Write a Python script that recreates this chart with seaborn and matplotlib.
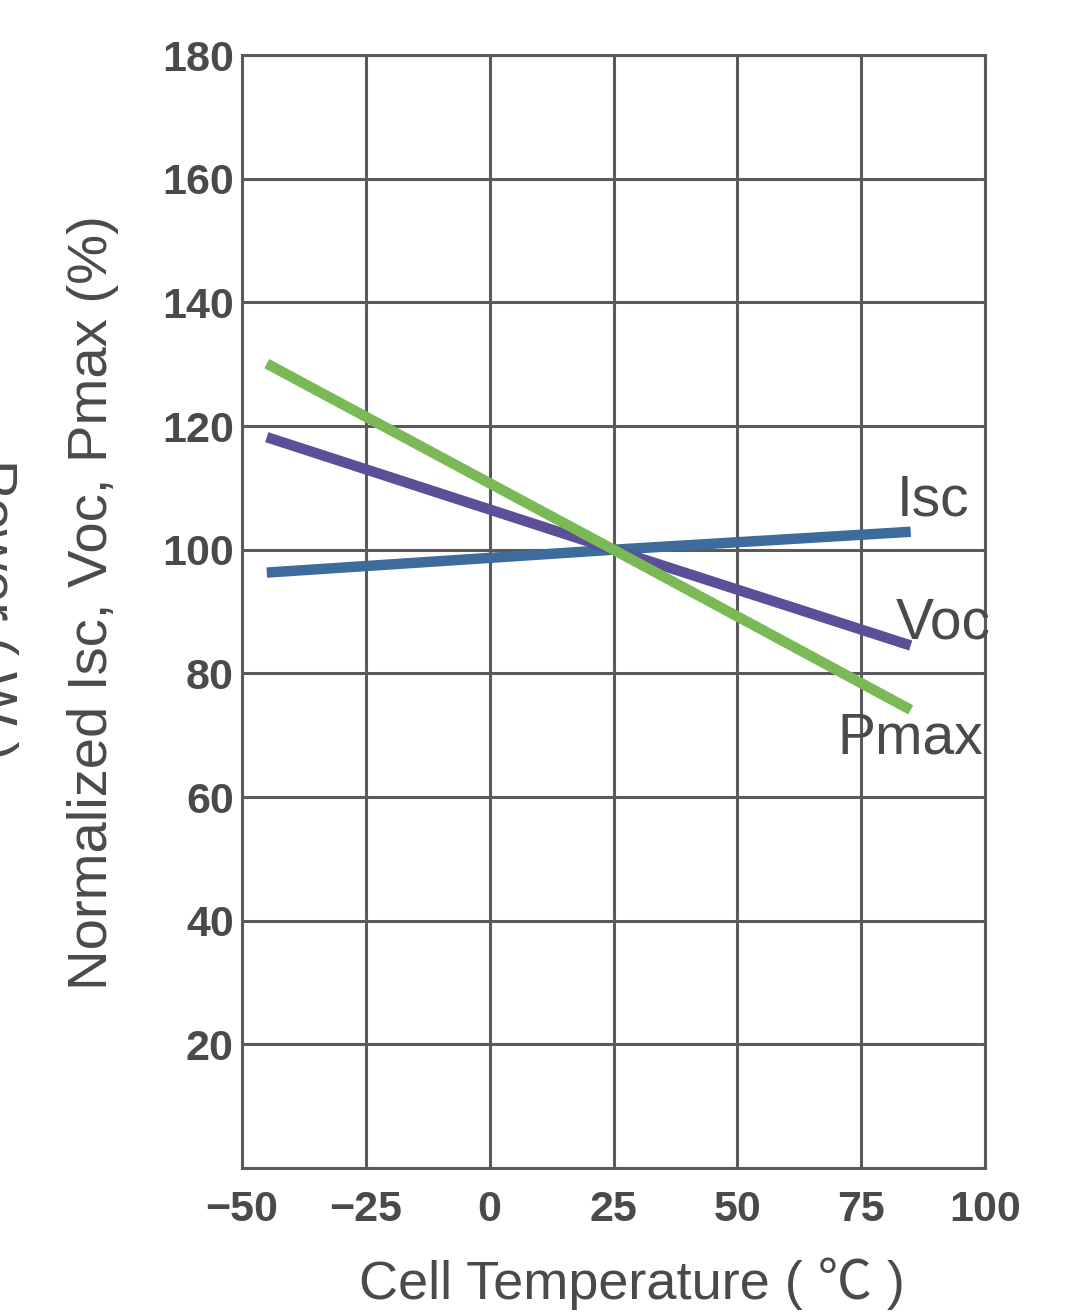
import matplotlib
matplotlib.use("Agg")
import matplotlib.pyplot as plt
import seaborn as sns
import pandas as pd

# ---- data ----
temperature = [-45, 25, 85]
isc = [96.3, 100, 102.9]
voc = [118.2, 100, 84.5]
pmax = [130.1, 100, 74.1]
series_names = ["Isc", "Voc", "Pmax"]
series_colors = ["#3d6b9c", "#5a4f98", "#79b956"]
x_ticks = [-50, -25, 0, 25, 50, 75, 100]
y_ticks = [20, 40, 60, 80, 100, 120, 140, 160, 180]
label_pos = {"Isc": (89.5, 108), "Voc": (91.5, 88), "Pmax": (84.8, 69.5)}

df = pd.concat([
    pd.DataFrame({"T": temperature, "val": isc, "series": "Isc"}),
    pd.DataFrame({"T": temperature, "val": voc, "series": "Voc"}),
    pd.DataFrame({"T": temperature, "val": pmax, "series": "Pmax"}),
])

sns.set_theme(style="white")
plt.rcParams['font.family'] = ['Liberation Sans', 'Noto Sans CJK SC', 'DejaVu Sans']

fig = plt.figure(figsize=(10.68, 13.14), dpi=100)
ax = fig.add_axes([0.2266, 0.1111, 0.6957, 0.8470])

grid_c = "#5a5a5a"
text_c = "#4a4a4a"

sns.lineplot(data=df, x="T", y="val", hue="series", hue_order=series_names,
             palette=series_colors, linewidth=7.5, legend=False, ax=ax,
             zorder=3, solid_capstyle="butt")

ax.set_xlim(-50, 100)
ax.set_ylim(0, 180)
ax.set_xticks(x_ticks)
ax.set_yticks(y_ticks)
ax.grid(True, color=grid_c, linewidth=2.2)
ax.set_axisbelow(True)
for s in ax.spines.values():
    s.set_color(grid_c)
    s.set_linewidth(2.2)

ax.tick_params(axis="both", length=0, colors=text_c)
ax.tick_params(axis="y", pad=6)
ax.tick_params(axis="x", pad=16)
for lab in ax.get_xticklabels() + ax.get_yticklabels():
    lab.set_fontweight("bold")
    lab.set_fontsize(31)
    lab.set_color(text_c)

for name in series_names:
    x, y = label_pos[name]
    ax.text(x, y, name, fontsize=41, color=text_c, ha="center", va="center", zorder=4)

ax.set_xlabel("Cell Temperature ( ℃ )", fontsize=39, color=text_c)
ax.xaxis.set_label_coords(0.525, -0.080)
ax.set_ylabel("Normalized Isc, Voc, Pmax (%)", fontsize=40.5, color=text_c)
ax.yaxis.set_label_coords(-0.166, 0.508)

fig.text(-0.008, 0.536, "Power ( W )", rotation=270, fontsize=41, color=text_c,
         ha="center", va="center")

fig.savefig("out.png", dpi=100, facecolor="white")
